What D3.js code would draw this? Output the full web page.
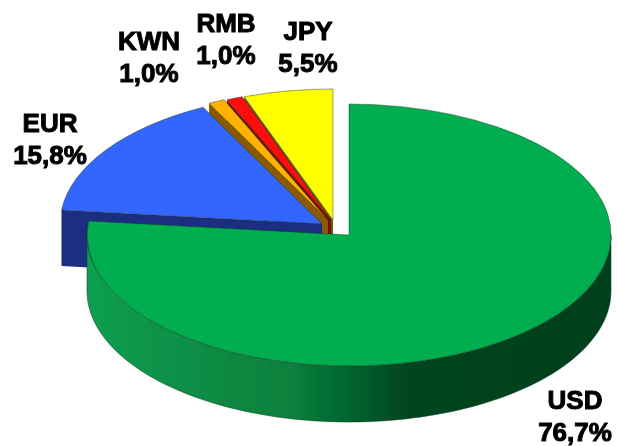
<!DOCTYPE html>
<html><head><meta charset="utf-8">
<script src="https://cdn.jsdelivr.net/npm/d3@7"></script>
<style>html,body{margin:0;background:#fff}svg{display:block}</style></head>
<body><svg id="c" width="617" height="446"></svg>
<script>
const categories = ["USD","EUR","KWN","RMB","JPY"];
const shares = [76.7,15.8,1.0,1.0,5.5];
const shareLabels = ["76,7%","15,8%","1,0%","1,0%","5,5%"];
const topColors = ["#00ae50","#3366ff","#ffb300","#ff0d0d","#ffff00"];
const wallColors = ["#0a7a3c","#1a2f80","#8a5a00","#7a1010","#5f6000"];

const W=617,H=446,RX=262,RY=131,DEPTH=56;
const centers={USD:[349,235],EUR:[322,224],KWN:[328,220],RMB:[331,220],JPY:[333,220]};
const labelPos={USD:[575,409],EUR:[50,132],KWN:[149,50],RMB:[226,32],JPY:[308,40]};
const svg=d3.select("#c");
const defs=svg.append("defs");
const grad=defs.append("linearGradient").attr("id","usdWall").attr("gradientUnits","userSpaceOnUse")
  .attr("x1",87).attr("x2",611).attr("y1",0).attr("y2",0);
[[0,"#0f9f50"],[.22,"#0a8c44"],[.39,"#07803d"],[.5,"#05652f"],[.615,"#03451f"],[1,"#033f1c"]]
  .forEach(([o,c])=>grad.append("stop").attr("offset",o).attr("stop-color",c));
defs.append("filter").attr("id","soft").append("feGaussianBlur").attr("stdDeviation",.35);

const pie=d3.pie().sort(null).value(d=>d)(shares);
const arc=d3.arc().innerRadius(0).outerRadius(1);
const ax=a=>Math.sin(a)*RX, ay=a=>-Math.cos(a)*RY;
function rimPath(c,a0,a1,n=90){
  const pts=d3.range(n+1).map(i=>a0+(a1-a0)*i/n);
  return pts.map(a=>[c[0]+ax(a),c[1]+ay(a)]);
}
const line=d3.line();
const root=svg.append("g").attr("filter","url(#soft)");
const drawOrder=[4,3,2,1,0];
drawOrder.forEach(i=>{
  const p=pie[i], name=categories[i], c=centers[name], g=root.append("g");
  if(name==="USD"){
    const rim=rimPath(c,Math.PI/2,Math.min(p.endAngle,Math.PI*1.5));
    const lo=rim.map(([x,y])=>[x,y+DEPTH]).reverse();
    g.append("path").attr("d",line(rim.concat(lo))+"Z").attr("fill","url(#usdWall)")
      .attr("stroke","#0a3a1e").attr("stroke-width",.5);
  } else {
    const rim0=[c[0]+ax(p.startAngle),c[1]+ay(p.startAngle)];
    g.append("path").attr("d",line([c,rim0,[rim0[0],rim0[1]+DEPTH],[c[0],c[1]+DEPTH]])+"Z").attr("fill",wallColors[i]);
  }
  g.append("path").attr("d",arc({startAngle:p.startAngle,endAngle:p.endAngle}))
    .attr("transform",`translate(${c[0]},${c[1]}) scale(${RX},${RY})`)
    .attr("fill",topColors[i]).attr("stroke","#14321e").attr("stroke-opacity",.55)
    .attr("stroke-width",.8).attr("vector-effect","non-scaling-stroke");
});
categories.forEach((n,i)=>{
  const [x,y]=labelPos[n];
  const t=root.append("text").attr("text-anchor","middle").attr("font-family","Liberation Sans, Arial, sans-serif")
    .attr("font-weight","bold").attr("font-size",26).attr("fill","#000").attr("stroke","#000").attr("stroke-width",1);
  t.append("tspan").attr("x",x).attr("y",y).text(n);
  t.append("tspan").attr("x",x).attr("y",y+32).text(shareLabels[i]);
});
</script></body></html>
